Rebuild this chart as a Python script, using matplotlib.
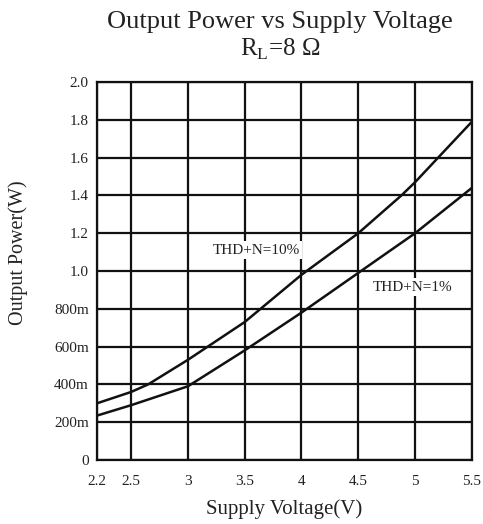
import matplotlib
matplotlib.use("Agg")
import matplotlib.pyplot as plt

# Data
v_10 = [2.2, 2.5, 2.65, 3.0, 3.5, 4.0, 4.5, 4.88, 5.0, 5.5]
p_10 = [0.30, 0.36, 0.40, 0.53, 0.73, 0.98, 1.20, 1.40, 1.47, 1.79]
v_1 = [2.2, 2.5, 3.0, 3.5, 4.0, 4.5, 5.0, 5.5]
p_1 = [0.235, 0.29, 0.39, 0.58, 0.78, 0.99, 1.20, 1.44]

x_ticks = [2.2, 2.5, 3.0, 3.5, 4.0, 4.5, 5.0, 5.5]
x_labels = ["2.2", "2.5", "3", "3.5", "4", "4.5", "5", "5.5"]
y_ticks = [0, 0.2, 0.4, 0.6, 0.8, 1.0, 1.2, 1.4, 1.6, 1.8, 2.0]
y_labels = ["0", "200m", "400m", "600m", "800m", "1.0", "1.2", "1.4", "1.6", "1.8", "2.0"]

title = "Output Power vs Supply Voltage"
subtitle = r"R$_\mathregular{L}$=8 Ω"
label_10 = "THD+N=10%"
label_1 = "THD+N=1%"

plt.rcParams['font.family'] = ['Liberation Serif', 'DejaVu Serif']
plt.rcParams['mathtext.fontset'] = 'custom'
plt.rcParams['mathtext.rm'] = 'Liberation Serif'

fig = plt.figure(figsize=(4.83, 5.24), dpi=100)
ax = fig.add_axes([0.2008, 0.1221, 0.977 - 0.2008, 0.8435 - 0.1221])

ax.set_xlim(2.2, 5.5)
ax.set_ylim(0, 2.0)
ax.set_xticks(x_ticks)
ax.set_xticklabels(x_labels)
ax.set_yticks(y_ticks)
ax.set_yticklabels(y_labels)
ax.tick_params(axis='both', length=0, labelsize=11, colors='#222222')
ax.tick_params(axis='x', pad=11)
ax.tick_params(axis='y', pad=6)

ax.grid(True, color='#111111', linewidth=1.6)
ax.set_axisbelow(True)
for s in ax.spines.values():
    s.set_linewidth(1.6)
    s.set_color('#111111')

ax.plot(v_10, p_10, color='#111111', linewidth=1.8, zorder=3)
ax.plot(v_1, p_1, color='#111111', linewidth=1.8, zorder=3)

ax.text(3.6, 1.11, label_10, ha='center', va='center', fontsize=11, color='#222222',
        bbox=dict(facecolor='white', edgecolor='none', pad=2), zorder=4)
ax.text(4.98, 0.915, label_1, ha='center', va='center', fontsize=11, color='#222222',
        bbox=dict(facecolor='white', edgecolor='none', pad=2), zorder=4)

ax.set_xlabel("Supply Voltage(V)", fontsize=15, color='#222222', labelpad=8)
ax.set_ylabel("Output Power(W)", fontsize=14.5, color='#222222')
ax.yaxis.set_label_coords(-0.185, 0.548)

fig.text(0.58, 0.958, title, ha='center', va='center', fontsize=19, color='#222222')
fig.text(0.58, 0.906, subtitle, ha='center', va='center', fontsize=18, color='#222222')

fig.savefig("out.png", dpi=100, facecolor='white')
